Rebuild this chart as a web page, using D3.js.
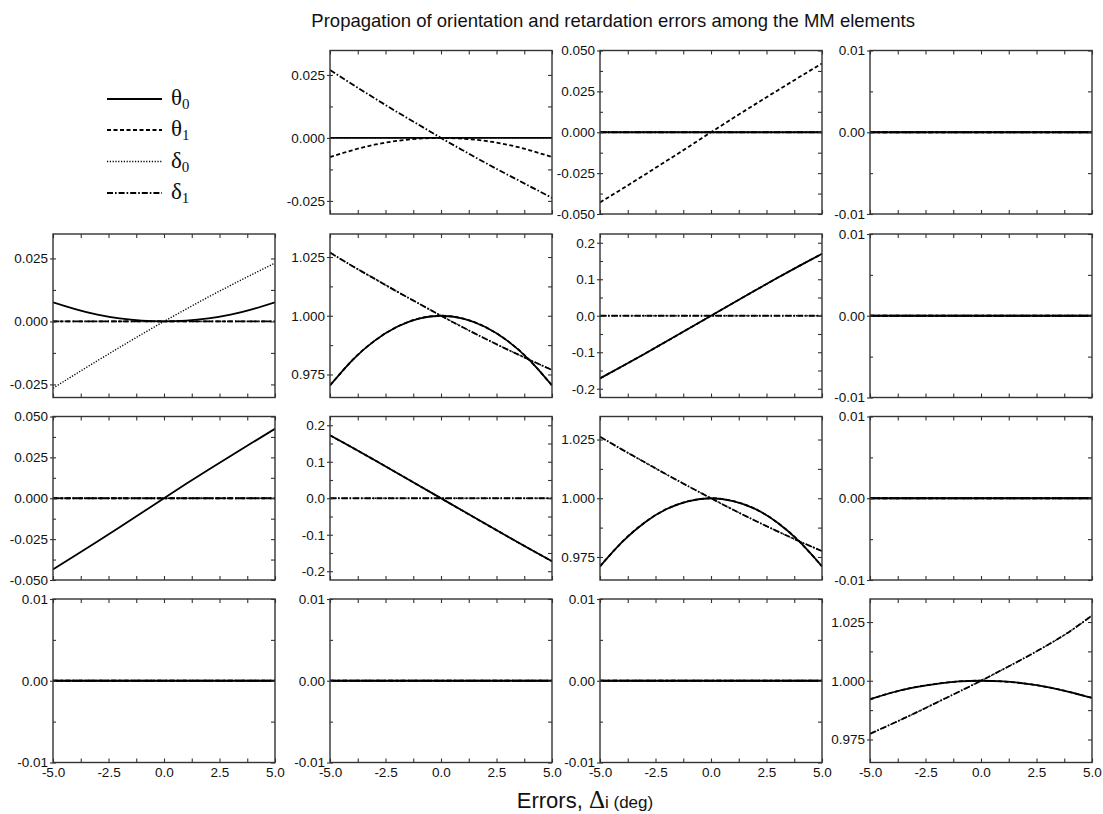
<!DOCTYPE html>
<html>
<head>
<meta charset="utf-8">
<script src="https://cdn.jsdelivr.net/npm/d3@7"></script>
<style>
  body { margin: 0; background: #fff; }
  svg { display: block; }
  .tick text { font-family: "Liberation Sans", Arial, sans-serif; font-size: 13.5px; fill: #111; }
  .tick line { stroke: #333; stroke-width: 1.1; }
</style>
</head>
<body>
<svg id="chart" width="1103" height="814"></svg>
<script>
// Angular error applied to each optical element (deg)
const errors = [-5, -4, -3, -2, -1, 0, 1, 2, 3, 4, 5];

// Series: orientation errors θ0, θ1 and retardation errors δ0, δ1
const seriesKeys = ["d0", "d1", "t1", "t0"];
const legendKeys = ["t0", "t1", "d0", "d1"];
const legendSymbols = { t0: ["θ", "0"], t1: ["θ", "1"], d0: ["δ", "0"], d1: ["δ", "1"] };

// Flat response (element unaffected)
const zero = [0, 0, 0, 0, 0, 0, 0, 0, 0, 0, 0];

// m12
const m12_t1 = [-0.0076, -0.0049, -0.0027, -0.0012, -0.0003, 0, -0.0003, -0.0012, -0.0027, -0.0049, -0.0076];
const m12_d1 = [0.0270, 0.0213, 0.0158, 0.0104, 0.0052, 0, -0.0050, -0.0099, -0.0146, -0.0192, -0.0238];
// m13
const m13_t1 = [-0.0429, -0.0346, -0.0261, -0.0175, -0.0088, 0, 0.0087, 0.0172, 0.0256, 0.0339, 0.0421];
// m21
const m21_t0 = [0.0076, 0.0049, 0.0027, 0.0012, 0.0003, 0, 0.0003, 0.0012, 0.0027, 0.0049, 0.0076];
const m21_d0 = [-0.0265, -0.0210, -0.0156, -0.0103, -0.0051, 0, 0.0049, 0.0097, 0.0143, 0.0188, 0.0232];
// m22
const m22_t0 = [0.9703, 0.9810, 0.9893, 0.9952, 0.9988, 1.0, 0.9988, 0.9952, 0.9893, 0.9810, 0.9703];
const m22_d1 = [1.0269, 1.0212, 1.0158, 1.0104, 1.0052, 1.0, 0.9950, 0.9902, 0.9856, 0.9812, 0.9769];
// m23
const m23_t0 = [-0.1716, -0.1385, -0.1046, -0.0700, -0.0351, 0, 0.0350, 0.0697, 0.1041, 0.1374, 0.1697];
// m31
const m31_t0 = [-0.0435, -0.0350, -0.0264, -0.0177, -0.0089, 0, 0.0088, 0.0174, 0.0259, 0.0342, 0.0425];
// m32
const m32_t0 = [0.1725, 0.1390, 0.1048, 0.0701, 0.0351, 0, -0.0351, -0.0701, -0.1048, -0.1390, -0.1725];
// m33
const m33_t0 = [0.9710, 0.9814, 0.9896, 0.9954, 0.9988, 1.0, 0.9988, 0.9954, 0.9896, 0.9814, 0.9710];
const m33_d1 = [1.0262, 1.0207, 1.0154, 1.0101, 1.0050, 1.0, 0.9951, 0.9904, 0.9859, 0.9816, 0.9775];
// m44
const m44_t0 = [0.9921, 0.9950, 0.9972, 0.9987, 0.9997, 1.0, 0.9997, 0.9988, 0.9973, 0.9952, 0.9927];
const m44_d1 = [0.9774, 0.9817, 0.9861, 0.9907, 0.9953, 1.0, 1.0049, 1.0099, 1.0152, 1.0210, 1.0278];

// y-axis ranges and tick labels
const domSmall = [-0.01, 0.01],   ticksSmall = [-0.01, 0, 0.01],   minorSmall = [-0.005, 0.005];
const domMid   = [-0.0302, 0.0347], ticksMid = [-0.025, 0, 0.025], minorMid = [-0.0125, 0.0125];
const domWide  = [-0.05, 0.05],   ticksWide = [-0.05, -0.025, 0, 0.025, 0.05], minorWide = [-0.0375, -0.0125, 0.0125, 0.0375];
const domRot   = [-0.224, 0.224], ticksRot = [-0.2, -0.1, 0, 0.1, 0.2], minorRot = [-0.15, -0.05, 0.05, 0.15];
const domDiag  = [0.9652, 1.0348], ticksDiag = [0.975, 1.0, 1.025], minorDiag = [0.9875, 1.0125];

// x-axis tick labels
const xTicks = [-5, -2.5, 0, 2.5, 5];
const xMinor = [-3.75, -1.25, 1.25, 3.75];

const axisKinds = {
  small: { domain: domSmall, major: ticksSmall, minor: minorSmall, fmt: ".2f" },
  mid:   { domain: domMid,   major: ticksMid,   minor: minorMid,   fmt: ".3f" },
  wide:  { domain: domWide,  major: ticksWide,  minor: minorWide,  fmt: ".3f" },
  rot:   { domain: domRot,   major: ticksRot,   minor: minorRot,   fmt: ".1f" },
  diag:  { domain: domDiag,  major: ticksDiag,  minor: minorDiag,  fmt: ".3f" }
};

// Matrix elements laid out as a 4x4 grid (the m11 slot holds the legend)
const cells = [
  { r: 0, c: 1, kind: "mid",   t0: zero,   t1: m12_t1, d0: zero,   d1: m12_d1 },
  { r: 0, c: 2, kind: "wide",  t0: zero,   t1: m13_t1, d0: zero,   d1: zero },
  { r: 0, c: 3, kind: "small", t0: zero,   t1: zero,   d0: zero,   d1: zero },
  { r: 1, c: 0, kind: "mid",   t0: m21_t0, t1: zero,   d0: m21_d0, d1: zero },
  { r: 1, c: 1, kind: "diag",  t0: m22_t0, t1: m22_t0, d0: m22_d1, d1: m22_d1 },
  { r: 1, c: 2, kind: "rot",   t0: m23_t0, t1: m23_t0, d0: zero,   d1: zero },
  { r: 1, c: 3, kind: "small", t0: zero,   t1: zero,   d0: zero,   d1: zero },
  { r: 2, c: 0, kind: "wide",  t0: m31_t0, t1: zero,   d0: zero,   d1: zero },
  { r: 2, c: 1, kind: "rot",   t0: m32_t0, t1: m32_t0, d0: zero,   d1: zero },
  { r: 2, c: 2, kind: "diag",  t0: m33_t0, t1: m33_t0, d0: m33_d1, d1: m33_d1 },
  { r: 2, c: 3, kind: "small", t0: zero,   t1: zero,   d0: zero,   d1: zero },
  { r: 3, c: 0, kind: "small", t0: zero,   t1: zero,   d0: zero,   d1: zero },
  { r: 3, c: 1, kind: "small", t0: zero,   t1: zero,   d0: zero,   d1: zero },
  { r: 3, c: 2, kind: "small", t0: zero,   t1: zero,   d0: zero,   d1: zero },
  { r: 3, c: 3, kind: "diag",  t0: m44_t0, t1: m44_t0, d0: m44_d1, d1: m44_d1 }
];

// ---- layout ----
const colX = [53, 330, 600, 870];
const rowY = [50.5, 234, 416.5, 599];
const panelW = 222, panelH = 163.5;

const lineStyle = {
  t0: { dash: null,          width: 1.8 },
  t1: { dash: "4,2.5",       width: 1.8 },
  d0: { dash: "1.2,1.6",     width: 1.4 },
  d1: { dash: "6,2,1.6,2",   width: 1.8 }
};

const loc = d3.formatLocale({ decimal: ".", thousands: ",", grouping: [3], currency: ["", ""], minus: "-" });
const svg = d3.select("#chart");

// Title
svg.append("text")
  .attr("x", 915).attr("y", 26.5)
  .attr("text-anchor", "end")
  .style("font-family", "'Liberation Sans', Arial, sans-serif")
  .style("font-size", "18.5px")
  .style("fill", "#111")
  .text("Propagation of orientation and retardation errors among the MM elements");

const x = d3.scaleLinear().domain([-5, 5]).range([0, panelW]);

cells.forEach(cell => {
  const spec = axisKinds[cell.kind];
  const g = svg.append("g").attr("transform", `translate(${colX[cell.c]},${rowY[cell.r]})`);
  const y = d3.scaleLinear().domain(spec.domain).range([panelH, 0]);
  const yfmt = loc.format(spec.fmt);

  // curves
  const line = d3.line().x((d, i) => x(errors[i])).y(d => y(d)).curve(d3.curveNatural);
  const clip = `clip-${cell.r}-${cell.c}`;
  g.append("clipPath").attr("id", clip).append("rect")
    .attr("x", 0).attr("y", 0).attr("width", panelW).attr("height", panelH);
  const curves = g.append("g").attr("clip-path", `url(#${clip})`);
  seriesKeys.forEach(k => {
    curves.append("path")
      .datum(cell[k])
      .attr("d", line)
      .attr("fill", "none")
      .attr("stroke", "#000")
      .attr("stroke-width", lineStyle[k].width)
      .attr("stroke-dasharray", lineStyle[k].dash);
  });

  // left axis: major labels with short outward ticks
  g.append("g").call(d3.axisLeft(y).tickValues(spec.major).tickSize(3).tickPadding(2).tickFormat(yfmt))
    .call(a => a.select(".domain").remove());
  // inward ticks on left and right edges
  g.append("g").call(d3.axisLeft(y).tickValues(spec.major.concat(spec.minor)).tickSize(-3).tickFormat(""))
    .call(a => a.select(".domain").remove());
  g.append("g").attr("transform", `translate(${panelW},0)`)
    .call(d3.axisRight(y).tickValues(spec.major.concat(spec.minor)).tickSize(-4).tickFormat(""))
    .call(a => a.select(".domain").remove());
  // top and bottom inward ticks
  g.append("g")
    .call(d3.axisTop(x).tickValues(xTicks.concat(xMinor)).tickSize(-4).tickFormat(""))
    .call(a => a.select(".domain").remove());
  const bottom = d3.axisBottom(x).tickValues(xTicks.concat(xMinor)).tickSize(-4).tickPadding(5)
    .tickFormat(d => (cell.r === 3 && xTicks.includes(d)) ? loc.format(".1f")(d) : "");
  g.append("g").attr("transform", `translate(0,${panelH})`).call(bottom)
    .call(a => a.select(".domain").remove());

  // frame
  g.append("rect")
    .attr("x", 0).attr("y", 0).attr("width", panelW).attr("height", panelH)
    .attr("fill", "none").attr("stroke", "#333").attr("stroke-width", 1.4);
});

// Legend in the m11 slot
const legend = svg.append("g");
const legendY = [99, 130, 161.5, 193];
legendKeys.forEach((k, i) => {
  legend.append("line")
    .attr("x1", 107).attr("x2", 162)
    .attr("y1", legendY[i]).attr("y2", legendY[i])
    .attr("stroke", "#000")
    .attr("stroke-width", lineStyle[k].width)
    .attr("stroke-dasharray", lineStyle[k].dash);
  const t = legend.append("text")
    .attr("x", 171).attr("y", legendY[i] + 6)
    .style("font-family", "'Liberation Serif', 'Times New Roman', serif")
    .style("fill", "#111");
  t.append("tspan").style("font-size", "23px").text(legendSymbols[k][0]);
  t.append("tspan").style("font-size", "15px").attr("dy", 4).text(legendSymbols[k][1]);
});

// x-axis title
const xt = svg.append("text")
  .attr("x", 585).attr("y", 808)
  .attr("text-anchor", "middle")
  .style("fill", "#111");
xt.append("tspan").style("font-family", "'Liberation Sans', Arial, sans-serif").style("font-size", "22px").text("Errors, ");
xt.append("tspan").style("font-family", "'Liberation Serif', 'Times New Roman', serif").style("font-size", "25px").text("Δ");
xt.append("tspan").style("font-family", "'Liberation Sans', Arial, sans-serif").style("font-size", "17px").text("i (deg)");
</script>
</body>
</html>
